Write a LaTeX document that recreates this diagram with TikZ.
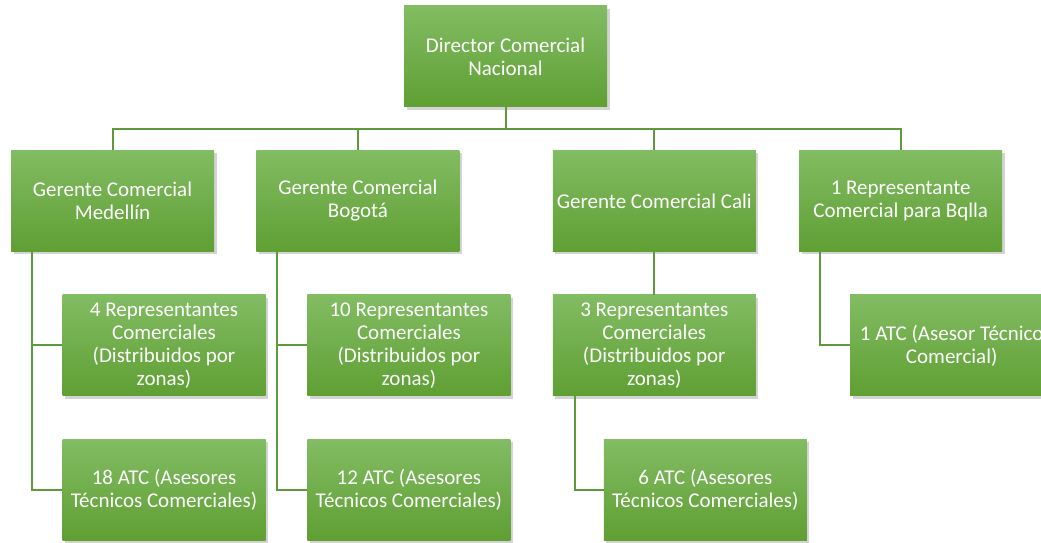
\documentclass[tikz,border=0pt]{standalone}
\usepackage{fontspec}
\setmainfont{Carlito}
\usetikzlibrary{positioning,shadows}
\definecolor{leaftop}{HTML}{82BC63}
\definecolor{leafbot}{HTML}{5F9F33}
\definecolor{stem}{HTML}{5E9A3C}
\tikzset{orgbox/.style={top color=leaftop,bottom color=leafbot,minimum width=203pt,minimum height=101pt,
 inner sep=2pt,align=center,text=white,font=\fontsize{21}{23}\selectfont,
 drop shadow={shadow xshift=2.5pt,shadow yshift=-3pt,opacity=.35}},link/.style={draw=stem,line width=2pt}}
\begin{document}
\begin{tikzpicture}[x=1pt,y=1pt]
\useasboundingbox (0,0) rectangle (1041,543);
\clip (0,0) rectangle (1041,543);
\node[orgbox] (dir) at (505.5,486.5) {Director Comercial\\Nacional};
\node[orgbox,below=43pt of dir,xshift=-393pt] (med) {Gerente Comercial\\Medellín};
\node[orgbox,right=42pt of med] (bog) {Gerente Comercial\\Bogotá};
\node[orgbox,right=93pt of bog] (cali) {Gerente Comercial Cali};
\node[orgbox,right=43pt of cali] (bq) {1 Representante\\Comercial para Bqlla};
\node[orgbox,below=43pt of med,xshift=51.5pt] (medrep) {4 Representantes\\Comerciales\\(Distribuidos por\\zonas)};
\node[orgbox,below=43pt of medrep] (medatc) {18 ATC (Asesores\\Técnicos Comerciales)};
\node[orgbox,below=43pt of bog,xshift=51pt] (bogrep) {10 Representantes\\Comerciales\\(Distribuidos por\\zonas)};
\node[orgbox,below=43pt of bogrep] (bogatc) {12 ATC (Asesores\\Técnicos Comerciales)};
\node[orgbox,below=43pt of cali] (calirep) {3 Representantes\\Comerciales\\(Distribuidos por\\zonas)};
\node[orgbox,below=43pt of calirep,xshift=51pt] (caliatc) {6 ATC (Asesores\\Técnicos Comerciales)};
\node[orgbox,below=43pt of bq,xshift=51pt] (bqatc) {1 ATC (Asesor Técnico\\Comercial)};
% director to managers
\foreach \m in {med,bog,cali,bq}
  \draw[link] (dir.south) -- ++(0,-21.5) -| (\m.north);
% branches below each manager
\draw[link] ([xshift=21.5pt]med.south west) |- (medrep.west);
\draw[link] ([xshift=21.5pt]med.south west) |- (medatc.west);
\draw[link] ([xshift=21pt]bog.south west) |- (bogrep.west);
\draw[link] ([xshift=21pt]bog.south west) |- (bogatc.west);
\draw[link] (cali.south) -- (calirep.north);
\draw[link] ([xshift=22pt]calirep.south west) |- (caliatc.west);
\draw[link] ([xshift=21pt]bq.south west) |- (bqatc.west);
\end{tikzpicture}
\end{document}
